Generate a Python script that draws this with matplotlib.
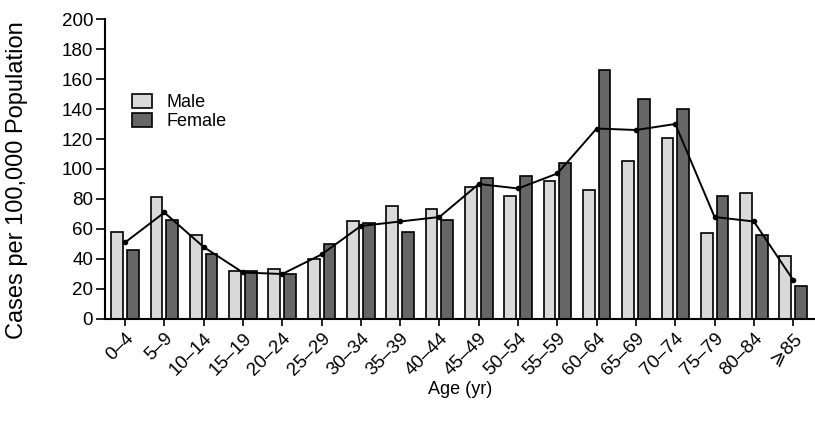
import matplotlib
matplotlib.use("Agg")
import matplotlib.pyplot as plt
import numpy as np
from matplotlib.patches import Patch

plt.rcParams['font.family'] = ['Liberation Sans', 'DejaVu Sans']

age_groups = ["0–4", "5–9", "10–14", "15–19", "20–24", "25–29", "30–34", "35–39",
              "40–44", "45–49", "50–54", "55–59", "60–64", "65–69", "70–74",
              "75–79", "80–84", "⩾85"]
male = [58, 81, 56, 32, 33, 40, 65, 75, 73, 88, 82, 92, 86, 105, 121, 57, 84, 42]
female = [46, 66, 43, 32, 30, 50, 64, 58, 66, 94, 95, 104, 166, 147, 140, 82, 56, 22]
total = [51, 71, 48, 31, 30, 43, 62, 65, 68, 90, 87, 97, 127, 126, 130, 68, 65, 26]

fig = plt.figure(figsize=(8.15, 4.32), dpi=100)
ax = fig.add_axes([0.1288, 0.2616, 0.870, 0.6944])

x = np.arange(len(age_groups))
w = 0.3
ax.bar(x - 0.2, male, width=w, color="#d9d9d9", edgecolor="black", linewidth=1.2, label="Male", zorder=2)
ax.bar(x + 0.2, female, width=w, color="#666666", edgecolor="black", linewidth=1.2, label="Female", zorder=2)
ax.plot(x, total, color="black", linewidth=1.4, marker="o", markersize=3, zorder=3)

ax.set_xlim(-0.51, 17.53)
ax.set_ylim(0, 200)
ax.set_yticks(np.arange(0, 201, 20))
ax.set_xticks(x)
ax.set_xticklabels(age_groups, rotation=45, ha="right", va="top", rotation_mode="anchor", fontsize=13.5)
ax.tick_params(axis="y", labelsize=13.5, length=6.5, width=1.2, pad=2)
ax.tick_params(axis="x", length=5, width=1.2, pad=3)

for s in ["top", "right"]:
    ax.spines[s].set_visible(False)
for s in ["left", "bottom"]:
    ax.spines[s].set_linewidth(1.5)

fig.text(17 / 815, 1 - 180 / 432, "Cases per 100,000 Population", rotation=90,
         ha="center", va="center", fontsize=17)
fig.text(460 / 815, 1 - 390 / 432, "Age (yr)", ha="center", va="center", fontsize=13)

handles = [Patch(facecolor="#d9d9d9", edgecolor="black", linewidth=1.2, label="Male"),
           Patch(facecolor="#666666", edgecolor="black", linewidth=1.2, label="Female")]
fig.legend(handles=handles, loc="upper left", bbox_to_anchor=(132 / 815, 1 - 94 / 432),
           frameon=False, fontsize=13, handlelength=1.1, handleheight=0.8,
           handletextpad=0.8, labelspacing=0.1, borderpad=0, borderaxespad=0)

fig.savefig("out.png", dpi=100)
